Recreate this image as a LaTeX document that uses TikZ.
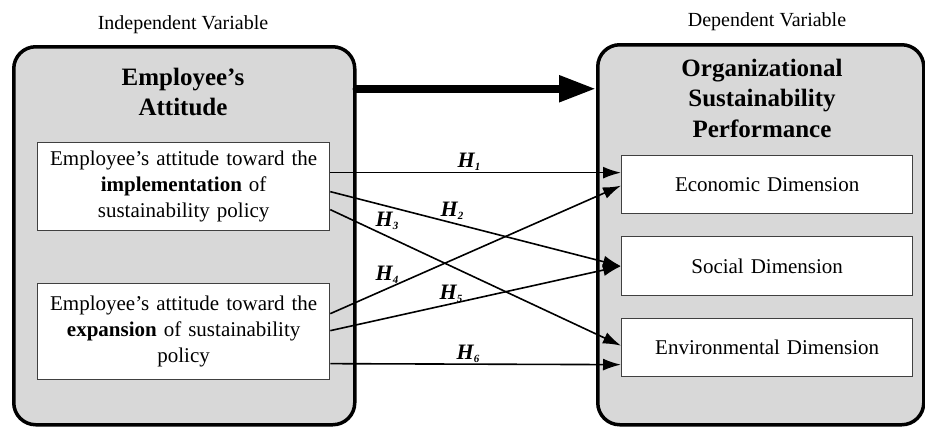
\documentclass[tikz,border=0pt]{standalone}
\usepackage{fontspec}
\setmainfont{Liberation Serif}
\usetikzlibrary{arrows.meta}
\definecolor{boxgray}{HTML}{D8D8D8}
\definecolor{edgegray}{HTML}{404040}
\newcommand{\hsub}[1]{\raisebox{-2.5pt}{\fontsize{11}{11}\selectfont\bfseries\itshape #1}}
\begin{document}
\begin{tikzpicture}[x=1pt,y=-1pt,
  outer/.style={draw=black, line width=3.5pt, fill=boxgray, rounded corners=22pt, anchor=north west, inner sep=0pt},
  inbox/.style={draw=edgegray, line width=1.3pt, fill=white, anchor=north west, align=center, inner xsep=0pt,
    font=\fontsize{21}{26}\selectfont},
  vartitle/.style={font=\fontsize{20}{24}\selectfont},
  boxtitle/.style={font=\fontsize{25}{30.5}\selectfont\bfseries, align=center},
  hyp/.style={-{Latex[length=18pt,width=12pt]}, line width=1.6pt},
  bigarrow/.style={-{Triangle[length=37pt,width=25pt]}, line width=8pt, line cap=round},
  hlab/.style={font=\fontsize{22}{22}\selectfont\bfseries\itshape, inner sep=0pt}
]
\useasboundingbox (0,0) rectangle (925,426);

% outer boxes
\node[outer, minimum width=341pt, minimum height=378pt] (L) at (12,45) {};
\node[outer, minimum width=326pt, minimum height=380pt] (R) at (596,43) {};

% variable titles
\node[vartitle] (IV) at (183,25) {Independent Variable};
\node[vartitle] (DV) at (767,22) {Dependent Variable};

% box titles
\node[boxtitle] (LT) at (183,92) {Employee’s\\Attitude};
\node[boxtitle] (RT) at (762,98) {Organizational\\Sustainability\\Performance};

% left inner boxes
\node[inbox, text width=292pt, minimum height=88pt] (I1) at (37,142)
  {Employee’s attitude toward the\\\textbf{implementation} of\\sustainability policy};
\node[inbox, text width=292pt, minimum height=96pt] (I2) at (37,283)
  {Employee’s attitude toward the\\\textbf{expansion} of sustainability\\policy};

% right inner boxes
\node[inbox, text width=291pt, minimum height=58pt] (E) at (621,155) {Economic Dimension};
\node[inbox, text width=291pt, minimum height=59pt] (S) at (621,236) {Social Dimension};
\node[inbox, text width=291pt, minimum height=58pt] (V) at (621,318) {Environmental Dimension};

% big arrow
\coordinate (ts) at ([yshift=147pt]L.east);
\draw[bigarrow] (ts) -- (ts -| R.west);

% hypotheses arrows
\draw[hyp] ([yshift=14pt]I1.east) -- ([yshift=12pt]E.west);
\draw[hyp] ([yshift=-5pt]I1.east) -- (S.west);
\draw[hyp] ([yshift=-23pt]I1.east) -- ([yshift=2pt]V.west);
\draw[hyp] ([yshift=18pt]I2.east) -- ([yshift=-1pt]E.west);
\draw[hyp] ([yshift=1pt]I2.east) -- (S.west);
\draw[hyp] ([yshift=-32pt]I2.east) -- ([yshift=-17pt]V.west);

% labels
\node[hlab] (h1) at (469,162) {H\hsub{1}};
\node[hlab] (h2) at (452,211) {H\hsub{2}};
\node[hlab] (h3) at (387,221) {H\hsub{3}};
\node[hlab] (h4) at (387,275) {H\hsub{4}};
\node[hlab] (h5) at (451,294) {H\hsub{5}};
\node[hlab] (h6) at (468,354) {H\hsub{6}};
\end{tikzpicture}
\end{document}
